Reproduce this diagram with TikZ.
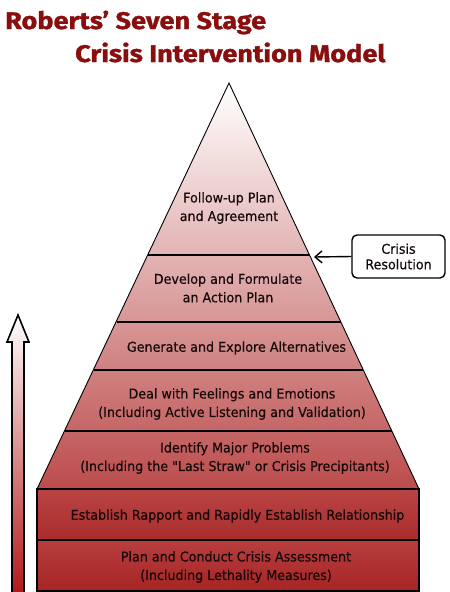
\documentclass[tikz,border=0pt]{standalone}
\usepackage{fontspec}
\newfontfamily\lblfont{DejaVu Sans}[FakeStretch=0.94, FakeBold=0.35]
\newfontfamily\titlefont{Fira Sans}[UprightFont=* Bold, FakeStretch=1.13, FakeBold=1.2]
\usetikzlibrary{arrows.meta}
\definecolor{titlered}{HTML}{8A0E0E}
\definecolor{txt}{HTML}{140808}
\begin{document}
\begin{tikzpicture}[x=1pt,y=-1pt,
  lbl/.style={font=\lblfont\fontsize{13.5}{18.5}\selectfont, text=txt, align=center, inner sep=0pt},
  ttl/.style={font=\titlefont\fontsize{24}{24}\selectfont, text=titlered, anchor=base west, inner sep=0pt},
  band/.style={line width=1.4pt, draw=black},
]
\useasboundingbox (0,0) rectangle (450,592);
\fill[white] (0,0) rectangle (450,592);
% title
\node[ttl] (t1) at (5,29) {Roberts’ Seven Stage};
\node[ttl] (t2) at (75,62) {Crisis Intervention Model};
% pyramid triangle
\shade[top color=white, middle color={rgb,255:red,230;green,188;blue,188}, bottom color={rgb,255:red,188;green,76;blue,76}]
  (229,83) -- (419,489) -- (37,489) -- cycle;
\draw[line width=0.9pt] (229,83) -- (419,489) -- (37,489) -- cycle;
\draw[band] (148.1,255) -- (309.5,255);
\draw[band] (116.6,322) -- (340.9,322);
\draw[band] (94.0,370) -- (363.3,370);
\draw[band] (65.3,431) -- (391.9,431);
% bottom rectangle
\shade[top color={rgb,255:red,186;green,68;blue,68}, bottom color={rgb,255:red,170;green,44;blue,44}] (37,489) rectangle (419,540);
\shade[top color={rgb,255:red,184;green,62;blue,62}, bottom color={rgb,255:red,166;green,36;blue,36}] (37,540) rectangle (419,591);
\draw[line width=1.4pt] (37,489) rectangle (419,591);
\draw[band] (37,540) -- (419,540);
% labels
\node[lbl] (s7) at (229,208) {Follow-up Plan\\and Agreement};
\node[lbl] (s6) at (228,288) {Develop and Formulate\\an Action Plan};
\node[lbl] (s5) at (236.5,348) {Generate and Explore Alternatives};
\node[lbl] (s4) at (232,404) {Deal with Feelings and Emotions\\(Including Active Listening and Validation)};
\node[lbl] (s3) at (235,458) {Identify Major Problems\\(Including the "Last Straw" or Crisis Precipitants)};
\node[lbl] (s2) at (237.5,516) {Establish Rapport and Rapidly Establish Relationship};
\node[lbl] (s1) at (236,567) {Plan and Conduct Crisis Assessment\\(Including Lethality Measures)};
% crisis resolution
\node[draw, line width=1.4pt, rounded corners=5pt, fill=white, minimum width=93pt, minimum height=43pt, lbl, font=\lblfont\fontsize{13.5}{15.5}\selectfont] (cr) at (398.5,256.5) {Crisis\\Resolution};
\coordinate (edge) at (314,257);
\draw[line width=1.4pt, -{Straight Barb[length=7pt,width=12pt]}] (cr.west) -- (edge);
% left block arrow
\shade[top color=white, bottom color={rgb,255:red,178;green,24;blue,24}, draw=black, line width=1.6pt]
  (18,315) -- (29,342) -- (24,342) -- (24,594) -- (12,594) -- (12,342) -- (7,342) -- cycle;
\end{tikzpicture}
\end{document}
